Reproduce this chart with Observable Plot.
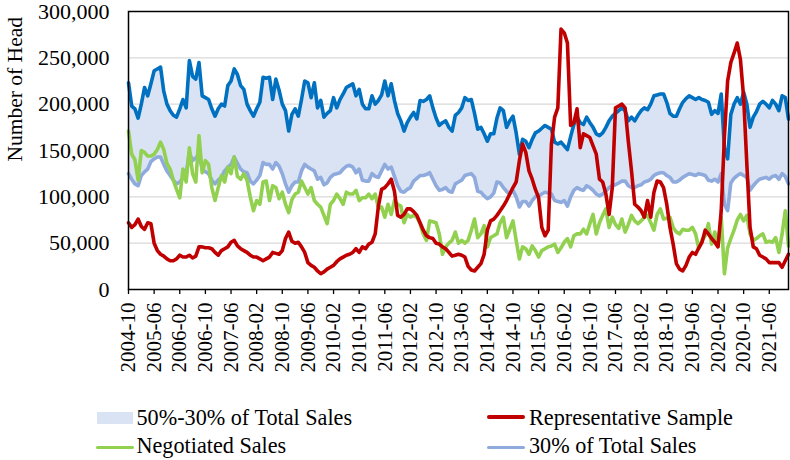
<!DOCTYPE html>
<html>
<head>
<meta charset="utf-8">
<script src="https://cdn.jsdelivr.net/npm/d3@7"></script>
<script src="https://cdn.jsdelivr.net/npm/@observablehq/plot@0.6"></script>
<style>
  html, body { margin: 0; padding: 0; background: #fff; }
  #wrap { position: relative; width: 790px; height: 460px; font-family: "Liberation Serif", "Times New Roman", serif; color: #000; }
  #wrap svg { display: block; }
  .lt { position: absolute; font-size: 22.2px; line-height: 22px; white-space: nowrap; }
  .sw { position: absolute; }
</style>
</head>
<body>
<div id="wrap"></div>
<script>
// Values in thousands of head, monthly from 2004-10
const UNIT = 1000;
const startYear = 2004, startMonth = 10;

const p50 = [
  223,198,195,185,200,218,209,222,236,238,
  240,214,200,193,188,186,195,205,196,247,
  230,227,245,209,207,205,195,187,195,200,
  198,220,225,238,232,220,216,200,193,187,
  195,202,229,228,229,205,227,215,200,193,
  171,189,195,187,205,225,223,207,223,196,
  204,186,190,193,207,196,205,211,218,220,
  222,209,216,200,195,195,209,200,204,210,
  225,209,222,204,190,182,171,180,186,191,
  184,204,203,205,209,196,185,177,180,182,
  175,171,188,191,196,207,204,205,190,173,
  175,168,160,168,168,185,196,193,175,182,
  187,169,146,162,160,153,162,169,171,174,
  177,175,173,159,157,159,155,151,165,178,
  186,180,178,186,180,175,168,166,169,175,
  182,187,190,193,196,193,182,186,182,188,
  193,196,194,200,209,210,211,211,202,190,
  187,187,195,202,206,209,207,205,207,205,
  204,202,189,193,190,211,153,141,189,200,
  207,200,213,200,175,186,192,200,203,200,
  196,204,200,193,209,207,184
];

const p30 = [
  125,119,114,112,123,127,130,138,141,143,
  143,135,128,123,118,114,116,120,125,148,
  139,142,146,130,127,125,118,114,118,121,
  128,132,135,143,136,130,127,126,117,114,
  118,123,137,135,135,130,137,133,125,114,
  105,112,116,116,128,135,132,130,128,119,
  121,113,115,121,124,125,126,130,133,134,
  132,126,130,118,117,117,125,122,121,128,
  135,130,132,122,112,106,105,108,110,117,
  120,123,123,124,126,119,112,107,108,110,
  106,105,114,116,118,123,124,125,121,106,
  105,101,98,100,104,116,115,110,106,103,
  107,100,89,95,95,90,96,100,101,103,
  105,104,103,96,95,94,96,90,100,107,
  110,108,107,112,110,107,103,101,103,106,
  110,112,113,115,117,117,112,110,110,112,
  113,116,117,119,123,125,126,126,123,121,
  116,116,118,121,123,125,124,123,125,124,
  123,118,117,119,116,125,92,85,115,120,
  123,125,123,121,107,112,116,119,120,121,
  119,122,123,119,125,122,114
];

const negotiated = [
  171,146,140,118,150,148,144,144,146,151,
  159,151,136,130,118,108,99,130,116,153,
  125,116,166,126,139,135,110,96,110,123,
  116,132,125,143,122,119,125,118,100,85,
  96,92,116,117,96,112,110,98,105,92,
  83,97,103,105,117,110,103,110,96,92,
  89,80,71,92,96,103,98,92,105,103,
  103,107,96,99,99,103,98,103,88,89,
  78,92,81,96,92,90,72,81,78,80,
  78,71,60,53,74,73,72,60,38,46,
  50,53,62,50,53,50,53,64,76,56,
  60,69,46,56,58,60,72,78,56,65,
  74,53,33,46,44,38,47,42,35,42,
  44,46,47,49,40,45,51,55,46,58,
  60,60,65,60,71,81,60,72,80,87,
  67,78,70,66,76,62,70,80,74,71,
  74,78,80,72,64,81,87,76,77,78,
  67,62,60,65,64,64,67,60,44,53,
  58,71,49,62,47,78,17,45,55,64,
  75,81,74,80,60,53,55,58,60,51,
  52,51,56,40,60,85,47
];

const representative = [
  72,67,70,76,68,65,72,71,50,42,
  38,36,33,31,31,33,37,35,35,37,
  34,36,46,46,45,45,44,40,37,42,
  44,46,51,53,47,44,42,40,37,35,
  35,33,31,33,35,40,39,38,42,55,
  62,52,50,51,46,40,29,26,24,20,
  17,19,22,24,26,30,33,35,37,38,
  40,44,40,46,44,49,51,60,90,108,
  110,114,119,106,80,78,81,87,87,84,
  80,72,64,58,56,55,50,49,46,44,
  40,36,37,38,37,35,25,21,20,24,
  28,38,64,74,76,80,85,90,96,103,
  110,116,139,157,148,128,119,108,99,67,
  58,64,157,186,196,281,277,266,177,180,
  195,153,168,166,164,155,146,119,116,103,
  81,110,196,198,200,196,160,128,92,89,
  85,78,96,78,105,117,116,110,92,67,
  49,28,22,20,26,35,40,38,45,51,
  64,60,55,51,46,85,165,225,245,255,
  266,248,207,135,67,46,44,37,35,33,
  29,29,29,29,24,31,38
];

const yTicks = [0, 50000, 100000, 150000, 200000, 250000, 300000];
const gridTicks = [50000, 100000, 150000, 200000, 250000];
const tickEvery = 8; // category label interval (months)

// Category labels (months)
const months = [];
{
  let y = startYear, m = startMonth;
  for (let i = 0; i < p50.length; i++) {
    months.push(`${y}-${String(m).padStart(2, "0")}`);
    m++; if (m > 12) { m = 1; y++; }
  }
}
const xTicks = d3.range(0, months.length, tickEvery);

const rows = months.map((mo, i) => ({
  i, month: mo,
  p50: p50[i] * UNIT,
  p30: p30[i] * UNIT,
  neg: negotiated[i] * UNIT,
  rep: representative[i] * UNIT
}));

const C = { band: "#DAE3F3", p50: "#0070C0", p30: "#8FAADC", neg: "#92D050", rep: "#C00000" };
const SW = 3.6;

const chart = Plot.plot({
  width: 790,
  height: 385,
  marginLeft: 128,
  marginRight: 2,
  marginTop: 11,
  marginBottom: 96,
  style: { fontFamily: "'Liberation Serif', 'Times New Roman', serif", fontSize: "22px", color: "#000", background: "#fff" },
  x: { type: "linear", domain: [0, months.length - 1] },
  y: { domain: [0, 300000] },
  marks: [
    Plot.gridY(gridTicks, { stroke: "#d9d9d9", strokeOpacity: 1, strokeWidth: 1.3 }),
    Plot.areaY(rows, { x: "i", y1: "p30", y2: "p50", fill: C.band, fillOpacity: 1 }),
    Plot.lineY(rows, { x: "i", y: "p50", stroke: C.p50, strokeWidth: SW }),
    Plot.lineY(rows, { x: "i", y: "p30", stroke: C.p30, strokeWidth: SW }),
    Plot.lineY(rows, { x: "i", y: "neg", stroke: C.neg, strokeWidth: SW }),
    Plot.lineY(rows, { x: "i", y: "rep", stroke: C.rep, strokeWidth: SW }),
    Plot.frame({ stroke: "#000", strokeWidth: 1.5 }),
    Plot.axisY(yTicks, { tickSize: 0, tickPadding: 19, tickFormat: d3.format(","), fontSize: 22, label: null }),
    Plot.axisX(xTicks, { tickSize: 5, tickPadding: 8, tickRotate: -90, tickFormat: (i) => months[i], fontSize: 21, label: null, stroke: "#000", strokeWidth: 1.3 }),
    Plot.text(["Number of Head"], { frameAnchor: "left", rotate: -90, dx: -113, dy: 11, fontSize: 21.5, fill: "#000" })
  ]
});

const wrap = document.getElementById("wrap");
wrap.appendChild(chart);

// Legend (below the chart)
const legendItems = [
  { type: "rect", color: C.band, sx: 97, sy: 411.5, sw: 36, sh: 12, label: "50%-30% of Total Sales", tx: 136.5, ty: 406.5 },
  { type: "line", color: C.rep, sx: 487, sy: 415, sw: 38, sh: 3.6, label: "Representative Sample", tx: 529, ty: 406.5 },
  { type: "line", color: C.neg, sx: 96, sy: 445.5, sw: 38, sh: 3.6, label: "Negotiated Sales", tx: 136.5, ty: 434.5 },
  { type: "line", color: C.p30, sx: 487, sy: 445.5, sw: 38, sh: 3.6, label: "30% of Total Sales", tx: 529, ty: 434.5 }
];
for (const it of legendItems) {
  const s = document.createElement("div");
  s.className = "sw";
  s.style.left = it.sx + "px"; s.style.top = it.sy + "px";
  s.style.width = it.sw + "px"; s.style.height = it.sh + "px";
  s.style.background = it.color;
  if (it.type === "line") s.style.borderRadius = "2px";
  wrap.appendChild(s);
  const t = document.createElement("div");
  t.className = "lt";
  t.style.left = it.tx + "px"; t.style.top = it.ty + "px";
  t.textContent = it.label;
  wrap.appendChild(t);
}
</script>
</body>
</html>
